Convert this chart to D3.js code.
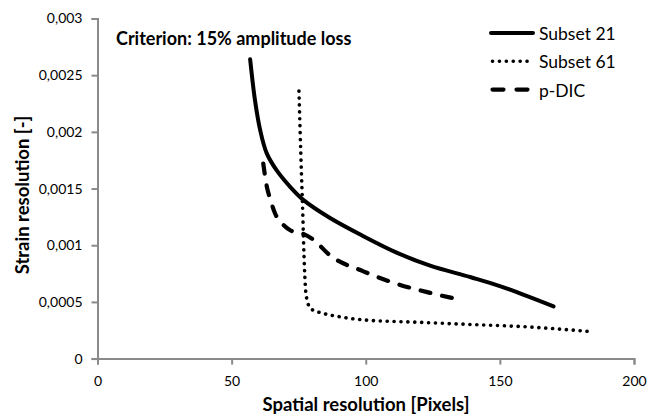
<!DOCTYPE html>
<html>
<head>
<meta charset="utf-8">
<script src="https://cdn.jsdelivr.net/npm/d3@7"></script>
<style>
  body { margin: 0; background: #fff; }
  text { font-family: Lato, "Open Sans", sans-serif; fill: #000; }
</style>
</head>
<body>
<svg width="657" height="417"></svg>
<script>
// values: [spatial resolution px, strain resolution]
var subset21 = [[56.9, 0.00264], [58.7, 0.00228], [60.6, 0.00202], [63.1, 0.00181],
  [66.8, 0.00166], [72.4, 0.0015], [76.7, 0.0014], [86.7, 0.00124], [99.1, 0.00108],
  [111.5, 0.000935], [124, 0.00082], [138.9, 0.00072], [150, 0.00064], [170, 0.00046]];
var subset61 = [[75.1, 0.00236], [75.8, 0.0018], [76.5, 0.0013], [77.0, 0.0009],
  [77.6, 0.0006], [78.3, 0.0005], [79.5, 0.00044], [84, 0.0004], [90, 0.00037],
  [100, 0.00034], [120, 0.00032], [140, 0.0003], [160, 0.00028], [183, 0.00024]];
var pdic = [[61.8, 0.00172], [63.1, 0.00152], [64.5, 0.0014], [66.2, 0.00128],
  [68.5, 0.0012], [72, 0.00113], [76.7, 0.0011], [80.4, 0.00105], [86.7, 0.00091],
  [99.1, 0.00077], [111.5, 0.00066], [124, 0.00058], [135.1, 0.00052]];

var xTicks = [0, 50, 100, 150, 200];
var yTicks = [0, 0.0005, 0.001, 0.0015, 0.002, 0.0025, 0.003];
var seriesNames = ["Subset 21", "Subset 61", "p-DIC"];

var svg = d3.select("svg");

var x = d3.scaleLinear().domain([0, 200]).range([97.5, 634]);
var y = d3.scaleLinear().domain([0, 0.003]).range([358.6, 18.5]);

// comma decimal like the original
var fmt = function(d) { return String(d).replace(".", ","); };

var xAxis = svg.append("g")
    .attr("transform", "translate(0," + y(0) + ")")
    .call(d3.axisBottom(x).tickValues(xTicks).tickSize(6).tickPadding(11).tickFormat(fmt));
var yAxis = svg.append("g")
    .attr("transform", "translate(" + x(0) + ",0)")
    .call(d3.axisLeft(y).tickValues(yTicks).tickSize(6).tickPadding(9).tickFormat(fmt));

[xAxis, yAxis].forEach(function(a) {
  a.select(".domain").attr("stroke", "#8a8a8a").attr("stroke-width", 2);
  a.selectAll(".tick line").attr("stroke", "#8a8a8a").attr("stroke-width", 2);
  a.selectAll(".tick text").style("font-size", "14px").style("font-family", "Lato, 'Open Sans', sans-serif").attr("fill", "#222");
});

var styles = [
  { dash: null, width: 4, cap: "round" },
  { dash: "0.1 6.8", width: 3.6, cap: "round" },
  { dash: "10 12", width: 4.2, cap: "round" }
];

var line = d3.line()
    .x(function(d) { return x(d[0]); })
    .y(function(d) { return y(d[1]); });

var curves = [d3.curveCatmullRom.alpha(0.5), d3.curveMonotoneX, d3.curveMonotoneX];

[subset21, subset61, pdic].forEach(function(s, i) {
  svg.append("path")
      .datum(s)
      .attr("d", line.curve(curves[i]))
      .attr("fill", "none")
      .attr("stroke", "#000")
      .attr("stroke-width", styles[i].width)
      .attr("stroke-linecap", styles[i].cap)
      .attr("stroke-dasharray", styles[i].dash);
});

// legend
var legend = svg.append("g").attr("transform", "translate(491,33)");
seriesNames.forEach(function(name, i) {
  var g = legend.append("g").attr("transform", "translate(0," + i * 28.3 + ")");
  g.append("line")
      .attr("x1", i === 0 ? 0 : 1.5).attr("x2", i === 0 ? 42 : 38)
      .attr("stroke", "#000")
      .attr("stroke-width", styles[i].width)
      .attr("stroke-linecap", styles[i].cap)
      .attr("stroke-dasharray", i === 2 ? "11 13" : styles[i].dash);
  g.append("text")
      .attr("x", 48).attr("y", 7)
      .style("font-size", "17.5px")
      .text(name);
});

svg.append("text")
    .attr("x", 116).attr("y", 45)
    .style("font-size", "18px").style("font-weight", "bold")
    .text("Criterion: 15% amplitude loss");

svg.append("text")
    .attr("x", 366).attr("y", 411)
    .attr("text-anchor", "middle")
    .style("font-size", "18.5px").style("font-weight", "bold")
    .text("Spatial resolution [Pixels]");

svg.append("text")
    .attr("transform", "translate(29,195) rotate(-90)")
    .attr("text-anchor", "middle")
    .style("font-size", "18.5px").style("font-weight", "bold")
    .text("Strain resolution [-]");
</script>
</body>
</html>
